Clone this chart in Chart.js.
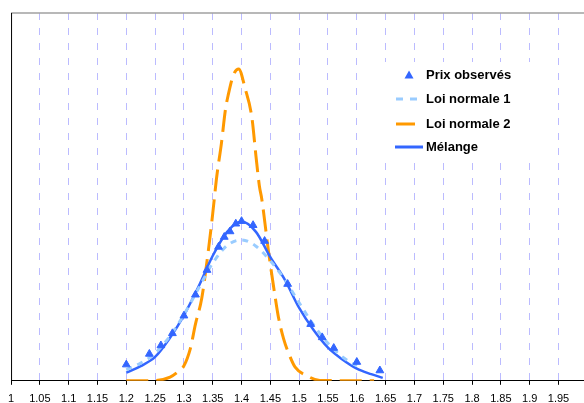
<!DOCTYPE html>
<html>
<head>
<meta charset="utf-8">
<script src="https://cdn.jsdelivr.net/npm/chart.js@4.4.0/dist/chart.umd.min.js"></script>
<style>
  html, body { margin: 0; padding: 0; background: #fff; overflow: hidden; width: 584px; height: 403px; }
  #wrap { position: relative; width: 584px; height: 403px; overflow: hidden; }
  #chart { position: absolute; left: 0; top: 0; }
</style>
</head>
<body>
<div id="wrap"><canvas id="chart" width="600" height="414"></canvas></div>
<script>
/* ───────────────────────── data ───────────────────────── */

const xTicks = [1, 1.05, 1.1, 1.15, 1.2, 1.25, 1.3, 1.35, 1.4, 1.45, 1.5, 1.55, 1.6, 1.65, 1.7, 1.75, 1.8, 1.85, 1.9, 1.95, 2];

const priceX = [1.20, 1.24, 1.26, 1.28, 1.30, 1.32, 1.34, 1.36, 1.37, 1.38, 1.39, 1.40, 1.42, 1.44, 1.48, 1.52, 1.54, 1.56, 1.60, 1.64];
const priceY = [0.44, 0.73, 0.96, 1.29, 1.77, 2.34, 3.01, 3.64, 3.91, 4.06, 4.27, 4.34, 4.23, 3.80, 2.63, 1.54, 1.18, 0.89, 0.51, 0.28];

const norm1X = [1.20, 1.225, 1.25, 1.275, 1.30, 1.325, 1.35, 1.375, 1.40, 1.425, 1.45, 1.475, 1.50, 1.525, 1.55, 1.575, 1.60];
const norm1Y = [0.30, 0.48, 0.75, 1.20, 1.80, 2.50, 3.20, 3.68, 3.83, 3.66, 3.26, 2.75, 2.12, 1.52, 1.02, 0.65, 0.40];

const norm2X = [1.20, 1.25, 1.276, 1.29, 1.30, 1.311, 1.32, 1.331, 1.343, 1.35, 1.357, 1.365, 1.372, 1.377, 1.386, 1.395,
                1.406, 1.418, 1.425, 1.431, 1.435, 1.447, 1.458, 1.464, 1.473, 1.483, 1.493, 1.513, 1.536, 1.63];
const norm2Y = [0, 0.01, 0.10, 0.25, 0.41, 0.87, 1.54, 2.25, 3.62, 4.55, 5.56, 6.45, 7.37, 7.78, 8.32, 8.48,
                7.96, 7.15, 6.11, 5.29, 4.95, 3.49, 2.31, 1.73, 1.14, 0.70, 0.37, 0.14, 0.01, 0];

const mixX = [1.20, 1.225, 1.25, 1.275, 1.30, 1.325, 1.35, 1.375, 1.40, 1.425, 1.45, 1.475, 1.50, 1.525, 1.55, 1.575, 1.60, 1.625, 1.645];
const mixY = [0.22, 0.40, 0.65, 1.15, 1.78, 2.55, 3.40, 4.05, 4.33, 4.05, 3.36, 2.75, 1.98, 1.38, 0.90, 0.58, 0.33, 0.18, 0.08];

const labels = ['Prix observés', 'Loi normale 1', 'Loi normale 2', 'Mélange'];

const COLORS = {
  price: '#3366ff',
  norm1: '#99ccff',
  norm2: '#ff9900',
  mix: '#3366ff',
  grid: 'rgba(120,120,255,0.5)',
};

/* ───────────────────────── helpers ───────────────────────── */

function pts(xs, ys) {
  return xs.map((x, i) => ({ x, y: ys[i] }));
}

function fmt(v) {
  return String(Math.round(v * 100) / 100);
}

function isEdge(v) {
  return Math.abs(v - 1) < 1e-6 || Math.abs(v - 2) < 1e-6;
}

/* ─────────────── frame + in-plot legend plugin ─────────────── */

const framePlugin = {
  id: 'frame',
  afterDraw(chart) {
    const { ctx, chartArea: a } = chart;
    ctx.save();
    // top border (grey), left axis (black)
    ctx.strokeStyle = '#a0a0a0';
    ctx.lineWidth = 1.5;
    ctx.beginPath();
    ctx.moveTo(a.left, a.top);
    ctx.lineTo(a.right, a.top);
    ctx.stroke();
    ctx.strokeStyle = '#000';
    ctx.lineWidth = 1;
    ctx.beginPath();
    ctx.moveTo(a.left + 0.5, a.top);
    ctx.lineTo(a.left + 0.5, a.bottom);
    ctx.stroke();

    // legend box
    ctx.fillStyle = '#fff';
    ctx.fillRect(385, 62, 168, 98);
    ctx.font = 'bold 13px "Liberation Sans", Arial, sans-serif';
    ctx.textBaseline = 'middle';
    ctx.fillStyle = '#000';
    const tx = 426;
    const rows = [75, 99, 124, 147];
    rows.forEach((y, i) => ctx.fillText(labels[i], tx, y));

    // triangle marker
    ctx.fillStyle = COLORS.price;
    ctx.beginPath();
    ctx.moveTo(409, rows[0] - 4.5);
    ctx.lineTo(413.5, rows[0] + 3.5);
    ctx.lineTo(404.5, rows[0] + 3.5);
    ctx.closePath();
    ctx.fill();

    ctx.lineWidth = 3;
    ctx.strokeStyle = COLORS.norm1;
    ctx.setLineDash([7, 7]);
    ctx.beginPath(); ctx.moveTo(396, rows[1]); ctx.lineTo(418, rows[1]); ctx.stroke();
    ctx.setLineDash([]);
    ctx.strokeStyle = COLORS.norm2;
    ctx.beginPath(); ctx.moveTo(396, rows[2]); ctx.lineTo(415, rows[2]); ctx.stroke();
    ctx.strokeStyle = COLORS.mix;
    ctx.beginPath(); ctx.moveTo(395, rows[3]); ctx.lineTo(423, rows[3]); ctx.stroke();
    ctx.restore();
  },
};

/* ───────────────────────── chart ───────────────────────── */

const lineBase = { showLine: true, pointRadius: 0, fill: false, cubicInterpolationMode: 'monotone', borderWidth: 3 };

new Chart(document.getElementById('chart'), {
  type: 'scatter',
  data: {
    datasets: [
      { ...lineBase, label: labels[2], data: pts(norm2X, norm2Y), borderColor: COLORS.norm2, borderDash: [22, 8], order: 4 },
      { ...lineBase, label: labels[3], data: pts(mixX, mixY), borderColor: COLORS.mix, borderWidth: 2.5, order: 3 },
      { ...lineBase, label: labels[1], data: pts(norm1X, norm1Y), borderColor: COLORS.norm1, borderDash: [6, 6], order: 2 },
      {
        label: labels[0],
        data: pts(priceX, priceY),
        showLine: false,
        pointStyle: 'triangle',
        pointRadius: 4.5,
        backgroundColor: COLORS.price,
        borderColor: COLORS.price,
        borderWidth: 1,
        order: 1,
      },
    ],
  },
  options: {
    responsive: false,
    animation: false,
    layout: { padding: { left: 10.5, right: 12.7, top: 13, bottom: 0 } },
    plugins: { legend: { display: false }, tooltip: { enabled: false } },
    scales: {
      x: {
        type: 'linear',
        min: 1,
        max: 2,
        afterBuildTicks: (scale) => { scale.ticks = xTicks.map((v) => ({ value: v })); },
        ticks: {
          autoSkip: false,
          maxRotation: 0,
          padding: 8,
          color: '#000',
          font: { family: '"Liberation Sans", Arial, sans-serif', size: 11 },
          callback: (v) => fmt(v),
        },
        grid: {
          color: (c) => (c.tick && isEdge(c.tick.value) ? 'rgba(0,0,0,0)' : COLORS.grid),
          lineWidth: 1,
          tickLength: 4,
          tickColor: '#000',
        },
        border: { display: true, color: '#000', width: 1, dash: [7, 8] },
      },
      y: {
        display: false,
        min: 0,
        max: 10,
      },
    },
  },
  plugins: [framePlugin],
});
</script>
</body>
</html>
